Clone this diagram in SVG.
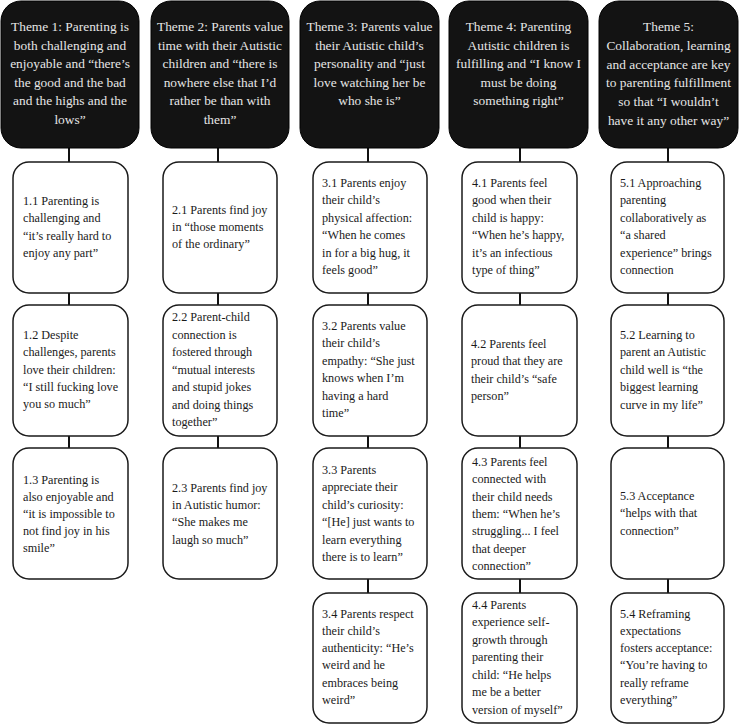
<svg xmlns="http://www.w3.org/2000/svg" width="739" height="725" viewBox="0 0 739 725">
<style>
.theme rect{fill:#131313;stroke:#000;stroke-width:1}
.theme text{font-family:"Liberation Serif",serif;font-size:13.4px;fill:#e6e6e6;text-anchor:middle}
.sub rect{fill:#fff;stroke:#1a1a1a;stroke-width:1.5}
.sub text{font-family:"Liberation Serif",serif;font-size:12.2px;fill:#1a1a1a}
.conn line{stroke:#111;stroke-width:2}
</style>
<rect width="739" height="725" fill="#fff"/>
<g class="conn">
<line x1="69" y1="148" x2="69" y2="162"/><line x1="69" y1="293" x2="69" y2="305"/><line x1="69" y1="436" x2="69" y2="448"/>
<line x1="218" y1="148" x2="218" y2="162"/><line x1="218" y1="293" x2="218" y2="305"/><line x1="218" y1="436" x2="218" y2="448"/>
<line x1="368" y1="148" x2="368" y2="162"/><line x1="368" y1="293" x2="368" y2="305"/><line x1="368" y1="436" x2="368" y2="448"/><line x1="368" y1="579" x2="368" y2="593"/>
<line x1="520" y1="148" x2="520" y2="162"/><line x1="520" y1="293" x2="520" y2="305"/><line x1="520" y1="436" x2="520" y2="448"/><line x1="520" y1="579" x2="520" y2="593"/>
<line x1="668" y1="148" x2="668" y2="162"/><line x1="668" y1="293" x2="668" y2="305"/><line x1="668" y1="436" x2="668" y2="448"/><line x1="668" y1="579" x2="668" y2="593"/>
</g>
<g id="theme1" class="theme"><rect x="1" y="1" width="138" height="147" rx="20"/>
<text y="31"><tspan x="70">Theme 1: Parenting is</tspan><tspan x="70" dy="18.6">both challenging and</tspan><tspan x="70" dy="18.6">enjoyable and “there’s</tspan><tspan x="70" dy="18.6">the good and the bad</tspan><tspan x="70" dy="18.6">and the highs and the</tspan><tspan x="70" dy="18.6">lows”</tspan></text></g>
<g id="theme2" class="theme"><rect x="151" y="1" width="138" height="147" rx="20"/>
<text y="31"><tspan x="220">Theme 2: Parents value</tspan><tspan x="220" dy="18.6">time with their Autistic</tspan><tspan x="220" dy="18.6">children and “there is</tspan><tspan x="220" dy="18.6">nowhere else that I’d</tspan><tspan x="220" dy="18.6">rather be than with</tspan><tspan x="220" dy="18.6">them”</tspan></text></g>
<g id="theme3" class="theme"><rect x="300" y="1" width="139" height="147" rx="20"/>
<text y="31"><tspan x="369.5">Theme 3: Parents value</tspan><tspan x="369.5" dy="18.6">their Autistic child’s</tspan><tspan x="369.5" dy="18.6">personality and “just</tspan><tspan x="369.5" dy="18.6">love watching her be</tspan><tspan x="369.5" dy="18.6">who she is”</tspan></text></g>
<g id="theme4" class="theme"><rect x="449" y="1" width="139" height="147" rx="20"/>
<text y="31"><tspan x="518.5">Theme 4: Parenting</tspan><tspan x="518.5" dy="18.6">Autistic children is</tspan><tspan x="518.5" dy="18.6">fulfilling and “I know I</tspan><tspan x="518.5" dy="18.6">must be doing</tspan><tspan x="518.5" dy="18.6">something right”</tspan></text></g>
<g id="theme5" class="theme"><rect x="599" y="1" width="139" height="147" rx="20"/>
<text y="31"><tspan x="668.5">Theme 5:</tspan><tspan x="668.5" dy="18.8">Collaboration, learning</tspan><tspan x="668.5" dy="18.8">and acceptance are key</tspan><tspan x="668.5" dy="18.8">to parenting fulfillment</tspan><tspan x="668.5" dy="18.8">so that “I wouldn’t</tspan><tspan x="668.5" dy="18.8">have it any other way”</tspan></text></g>

<g id="s11" class="sub"><rect x="13" y="162" width="115" height="131" rx="16"/>
<text y="205"><tspan x="23">1.1 Parenting is</tspan><tspan x="23" dy="17.3">challenging and</tspan><tspan x="23" dy="17.3">“it’s really hard to</tspan><tspan x="23" dy="17.3">enjoy any part”</tspan></text></g>
<g id="s12" class="sub"><rect x="13" y="305" width="115" height="131" rx="16"/>
<text y="339"><tspan x="23">1.2 Despite</tspan><tspan x="23" dy="17.3">challenges, parents</tspan><tspan x="23" dy="17.3">love their children:</tspan><tspan x="23" dy="17.3">“I still fucking love</tspan><tspan x="23" dy="17.3">you so much”</tspan></text></g>
<g id="s13" class="sub"><rect x="13" y="448" width="115" height="131" rx="16"/>
<text y="483.5"><tspan x="23">1.3 Parenting is</tspan><tspan x="23" dy="17.2">also enjoyable and</tspan><tspan x="23" dy="17.2">“it is impossible to</tspan><tspan x="23" dy="17.2">not find joy in his</tspan><tspan x="23" dy="17.2">smile”</tspan></text></g>

<g id="s21" class="sub"><rect x="163" y="162" width="114" height="131" rx="16"/>
<text y="213.5"><tspan x="172">2.1 Parents find joy</tspan><tspan x="172" dy="17.3">in “those moments</tspan><tspan x="172" dy="17.3">of the ordinary”</tspan></text></g>
<g id="s22" class="sub"><rect x="163" y="305" width="114" height="131" rx="16"/>
<text y="321"><tspan x="172">2.2 Parent-child</tspan><tspan x="172" dy="17.5">connection is</tspan><tspan x="172" dy="17.5">fostered through</tspan><tspan x="172" dy="17.5">“mutual interests</tspan><tspan x="172" dy="17.5">and stupid jokes</tspan><tspan x="172" dy="17.5">and doing things</tspan><tspan x="172" dy="17.5">together”</tspan></text></g>
<g id="s23" class="sub"><rect x="163" y="448" width="114" height="131" rx="16"/>
<text y="492"><tspan x="172">2.3 Parents find joy</tspan><tspan x="172" dy="17.2">in Autistic humor:</tspan><tspan x="172" dy="17.2">“She makes me</tspan><tspan x="172" dy="17.2">laugh so much”</tspan></text></g>

<g id="s31" class="sub"><rect x="313" y="162" width="114" height="131" rx="16"/>
<text y="187"><tspan x="322">3.1 Parents enjoy</tspan><tspan x="322" dy="17.4">their child’s</tspan><tspan x="322" dy="17.4">physical affection:</tspan><tspan x="322" dy="17.4">“When he comes</tspan><tspan x="322" dy="17.4">in for a big hug, it</tspan><tspan x="322" dy="17.4">feels good”</tspan></text></g>
<g id="s32" class="sub"><rect x="313" y="305" width="114" height="131" rx="16"/>
<text y="330"><tspan x="322">3.2 Parents value</tspan><tspan x="322" dy="17.4">their child’s</tspan><tspan x="322" dy="17.4">empathy: “She just</tspan><tspan x="322" dy="17.4">knows when I’m</tspan><tspan x="322" dy="17.4">having a hard</tspan><tspan x="322" dy="17.4">time”</tspan></text></g>
<g id="s33" class="sub"><rect x="313" y="448" width="114" height="131" rx="16"/>
<text y="474"><tspan x="322">3.3 Parents</tspan><tspan x="322" dy="17.4">appreciate their</tspan><tspan x="322" dy="17.4">child’s curiosity:</tspan><tspan x="322" dy="17.4">“[He] just wants to</tspan><tspan x="322" dy="17.4">learn everything</tspan><tspan x="322" dy="17.4">there is to learn”</tspan></text></g>
<g id="s34" class="sub"><rect x="313" y="593" width="114" height="130" rx="16"/>
<text y="617.5"><tspan x="322">3.4 Parents respect</tspan><tspan x="322" dy="17.3">their child’s</tspan><tspan x="322" dy="17.3">authenticity: “He’s</tspan><tspan x="322" dy="17.3">weird and he</tspan><tspan x="322" dy="17.3">embraces being</tspan><tspan x="322" dy="17.3">weird”</tspan></text></g>

<g id="s41" class="sub"><rect x="462" y="162" width="115" height="131" rx="16"/>
<text y="187"><tspan x="472">4.1 Parents feel</tspan><tspan x="472" dy="17.4">good when their</tspan><tspan x="472" dy="17.4">child is happy:</tspan><tspan x="472" dy="17.4">“When he’s happy,</tspan><tspan x="472" dy="17.4">it’s an infectious</tspan><tspan x="472" dy="17.4">type of thing”</tspan></text></g>
<g id="s42" class="sub"><rect x="462" y="305" width="115" height="131" rx="16"/>
<text y="347.5"><tspan x="471">4.2 Parents feel</tspan><tspan x="471" dy="17.5">proud that they are</tspan><tspan x="471" dy="17.5">their child’s “safe</tspan><tspan x="471" dy="17.5">person”</tspan></text></g>
<g id="s43" class="sub"><rect x="462" y="448" width="115" height="131" rx="16"/>
<text y="466"><tspan x="472">4.3 Parents feel</tspan><tspan x="472" dy="17.3">connected with</tspan><tspan x="472" dy="17.3">their child needs</tspan><tspan x="472" dy="17.3">them: “When he’s</tspan><tspan x="472" dy="17.3">struggling... I feel</tspan><tspan x="472" dy="17.3">that deeper</tspan><tspan x="472" dy="17.3">connection”</tspan></text></g>
<g id="s44" class="sub"><rect x="462" y="593" width="115" height="130" rx="16"/>
<text y="608.5"><tspan x="472">4.4 Parents</tspan><tspan x="472" dy="17.5">experience self-</tspan><tspan x="472" dy="17.5">growth through</tspan><tspan x="472" dy="17.5">parenting their</tspan><tspan x="472" dy="17.5">child: “He helps</tspan><tspan x="472" dy="17.5">me be a better</tspan><tspan x="472" dy="17.5">version of myself”</tspan></text></g>

<g id="s51" class="sub"><rect x="611" y="162" width="113" height="131" rx="16"/>
<text y="187"><tspan x="620">5.1 Approaching</tspan><tspan x="620" dy="17.4">parenting</tspan><tspan x="620" dy="17.4">collaboratively as</tspan><tspan x="620" dy="17.4">“a shared</tspan><tspan x="620" dy="17.4">experience” brings</tspan><tspan x="620" dy="17.4">connection</tspan></text></g>
<g id="s52" class="sub"><rect x="611" y="305" width="113" height="131" rx="16"/>
<text y="338.5"><tspan x="620">5.2 Learning to</tspan><tspan x="620" dy="17.5">parent an Autistic</tspan><tspan x="620" dy="17.5">child well is “the</tspan><tspan x="620" dy="17.5">biggest learning</tspan><tspan x="620" dy="17.5">curve in my life”</tspan></text></g>
<g id="s53" class="sub"><rect x="611" y="448" width="113" height="131" rx="16"/>
<text y="500"><tspan x="620">5.3 Acceptance</tspan><tspan x="620" dy="17.4">“helps with that</tspan><tspan x="620" dy="17.4">connection”</tspan></text></g>
<g id="s54" class="sub"><rect x="611" y="593" width="113" height="130" rx="16"/>
<text y="617.5"><tspan x="620">5.4 Reframing</tspan><tspan x="620" dy="17.3">expectations</tspan><tspan x="620" dy="17.3">fosters acceptance:</tspan><tspan x="620" dy="17.3">“You’re having to</tspan><tspan x="620" dy="17.3">really reframe</tspan><tspan x="620" dy="17.3">everything”</tspan></text></g>
</svg>
